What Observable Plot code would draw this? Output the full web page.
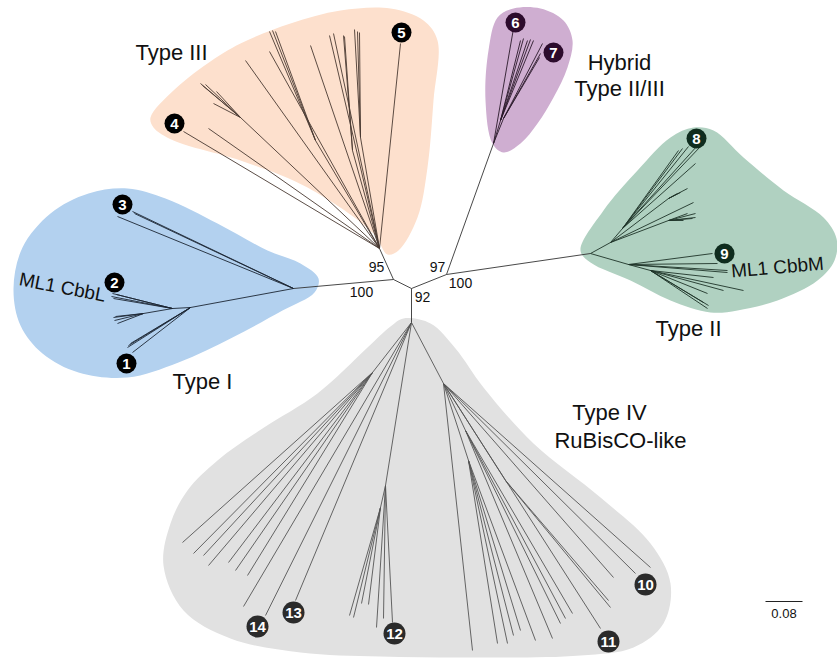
<!DOCTYPE html>
<html><head><meta charset="utf-8">
<script src="https://cdn.jsdelivr.net/npm/d3@7"></script>
<script src="https://cdn.jsdelivr.net/npm/@observablehq/plot@0.6"></script>
<style>
html,body{margin:0;padding:0;background:#fff;}
#chart svg{display:block;font-family:"Liberation Sans",Arial,sans-serif;}
</style>
</head><body><div id="chart"></div>
<script>
// ---- clade hull outlines (layout coordinates) ----
const hullTypeI = [[318,278],[300,263],[267,250],[217,223],[165,198],[127,188],[88,193],[50,213],[22,247],[13,288],[20,325],[42,353],[78,372],[127,377],[178,362],[232,337],[282,310],[314,292]];
const hullTypeIII = [[387,254],[373,233],[307,187],[240,160],[173,140],[153,127],[150,117],[173,90],[207,63],[240,43],[290,23],[340,10],[390,8],[423,20],[437,40],[433,100],[427,167],[417,217],[398,250]];
const hullHybrid = [[492,143],[485,100],[488,50],[497,17],[513,8],[540,8],[563,20],[572,40],[567,67],[553,97],[537,123],[520,143],[503,152]];
const hullTypeII = [[580,250],[603,210],[637,170],[670,137],[693,127],[713,130],[743,157],[783,190],[823,217],[836,238],[834,260],[817,280],[777,300],[737,310],[710,312],[670,300],[630,280],[590,262]];
const hullTypeIV = [[403,318],[430,323],[455,348],[483,387],[533,443],[600,497],[650,543],[670,583],[663,623],[633,647],[580,655],[480,657],[380,656],[300,652],[230,638],[183,610],[163,565],[170,523],[187,490],[217,460],[262,428],[317,393],[367,347],[390,326]];
const hullColors = ["#b3d1ef","#fde0cd","#cfaed1","#b0d1c1","#e1e1e1"];

// ---- tree branches [x1, y1, x2, y2] ----
const backbone = [[411,288,393,279],[411,288,446,274],[411,288,411,322],[393,279,293,288],[393,279,379,248],[446,274,493,143],[446,274,590,253]];
const branchesI = [[293,288,132,211],[293,288,134,213],[293,288,117,216],[293,288,190,307],[190,307,172,308],
  [172,308,112,293],[172,308,111,296],[172,308,113,298],[172,308,116,294],
  [172,308,143,313],[143,313,113,317],[143,313,114,320],[143,313,117,323],[143,313,115,316],
  [190,307,127,347],[190,307,128,345],[190,307,130,343],[190,307,132,352]];
const branchesIII = [[379,248,183,131],[379,248,208,128],[379,248,245,60],[379,248,269,51],[379,248,310,45],[379,248,400,43],
  [379,248,240,117],[240,117,200,83],[240,117,202,85],[240,117,205,84],[240,117,216,91],[240,117,213,103],
  [379,248,315,140],[315,140,269,31],[315,140,272,30],[315,140,275,31],
  [379,248,360,137],[360,137,354,29],[360,137,357,31],[360,137,359,32],
  [379,248,329,35],[379,248,333,33],[379,248,352,150],[352,150,343,35],[352,150,344,36]];
const branchesHybrid = [[493,143,513,28],[493,143,500,120],[500,120,520,40],[500,120,523,38],[500,120,527,40],[500,120,530,39],[500,120,533,40],
  [493,143,503,118],[503,118,542,43],[503,118,540,53],[503,118,539,57]];
const branchesII = [[590,253,610,242],[610,242,622,228],[622,228,700,146],[622,228,697,145],[622,228,688,146],[622,228,682,148],[622,228,678,150],[622,228,695,163],
  [610,242,668,198],[668,198,687,188],[668,198,680,192],[668,198,677,193],[610,242,693,202],
  [610,242,668,220],[668,220,695,213],[668,220,695,217],[668,220,692,218],[668,220,687,213],[668,220,683,220],
  [590,253,628,264],[628,264,712,253],[628,264,717,263],[628,264,727,270],[628,264,727,272],
  [628,264,650,270],[650,270,713,277],[650,270,743,290],[650,270,723,290],[650,270,707,293],[650,270,708,305],[650,270,707,308],[650,270,703,302]];
const branchesIV = [[411,322,372,372],[372,372,182,542],[372,372,193,553],[372,372,203,555],[372,372,208,565],[372,372,228,562],[372,372,235,570],[372,372,247,575],
  [411,322,243,606],[411,322,265,615],[411,322,295,600],
  [411,322,385,485],[385,485,380,507],[380,507,349,615],[380,507,353,617],[380,507,361,603],[380,507,368,604],
  [385,485,376,627],[385,485,383,618],[385,485,392,622],
  [411,322,443,383],[443,383,650,567],[443,383,635,573],[443,383,613,577],
  [443,383,505,480],[505,480,608,600],[505,480,610,607],[443,383,600,628],
  [443,383,465,430],[465,430,572,613],[465,430,565,618],[465,430,560,623],[465,430,552,638],
  [443,383,468,460],[468,460,535,640],[468,460,520,630],[468,460,513,635],[468,460,507,643],[468,460,497,643],
  [443,383,472,650]];
const branchColors = ["#333333","#1c2633","#4a3a32","#2a1a2a","#1e3328","#555555"];

// ---- numbered markers ----
const markerIds = ["1","2","3","4","5","6","7","8","9","10","11","12","13","14"];
const markerX = [126,114,122,174,401,515,553,696,724,645,608,394,293,257];
const markerY = [363,282,204,123,32,22,52,138,253,584,641,633,612,626];
const markerColors = ["#000000","#000000","#000000","#000000","#000000","#2c0b2c","#2c0b2c","#0f2c1e","#0f2c1e","#2b2b2b","#2b2b2b","#2b2b2b","#2b2b2b","#2b2b2b"];

// ---- labels ----
const cladeLabels = ["Type III","Hybrid","Type II/III","Type II","Type I","Type IV","RuBisCO-like"];
const cladeLabelX = [171,619,619,688,202,609,620];
const cladeLabelY = [52,62,88,328,381,412,440];
const geneLabels = ["ML1 CbbL","ML1 CbbM"];
const geneLabelX = [62,777];
const geneLabelY = [287,267];
const geneLabelAngle = [11,-5];
const supportValues = ["95","97","100","100","92"];
const supportX = [376,437,361,460,422];
const supportY = [267,267,292,283,297];
const scaleBar = [{x1:765,x2:802,y:601,label:"0.08"}];

const W = 837, H = 658;
const hulls = [hullTypeI,hullTypeIII,hullHybrid,hullTypeII,hullTypeIV];
const branchSets = [backbone,branchesI,branchesIII,branchesHybrid,branchesII,branchesIV];
const edges = branchSets.flatMap((s,i)=>s.map(e=>({x1:e[0],y1:e[1],x2:e[2],y2:e[3],c:branchColors[i]})));
const markers = markerIds.map((t,i)=>({t,x:markerX[i],y:markerY[i],c:markerColors[i],rr:t.length>1?11:10}));
const clades = cladeLabels.map((t,i)=>({t,x:cladeLabelX[i],y:cladeLabelY[i]}));
const genes = geneLabels.map((t,i)=>({t,x:geneLabelX[i],y:geneLabelY[i],a:geneLabelAngle[i]}));
const supports = supportValues.map((t,i)=>({t,x:supportX[i],y:supportY[i]}));

const chart = Plot.plot({
  width: W, height: H, margin: 0,
  x: {domain:[0,W], range:[0,W], axis:null},
  y: {domain:[0,H], range:[0,H], axis:null},
  r: {type:"identity"},
  color: {type:"identity"},
  style: {fontFamily:"Liberation Sans, Arial, sans-serif", background:"#fff"},
  marks: [
    ...hulls.map((h,i)=>Plot.line(h,{x:d=>d[0],y:d=>d[1],curve:"catmull-rom-closed",fill:hullColors[i],stroke:"none"})),
    Plot.link(edges,{x1:"x1",y1:"y1",x2:"x2",y2:"y2",stroke:"c",strokeWidth:0.9}),
    Plot.dot(markers,{x:"x",y:"y",r:"rr",fill:"c",stroke:"none"}),
    Plot.text(markers,{x:"x",y:"y",text:"t",fill:"white",fontWeight:"bold",fontSize:15,dy:1,letterSpacing:-0.5}),
    Plot.text(clades,{x:"x",y:"y",text:"t",fontSize:22,fill:"#111"}),
    ...genes.map(g=>Plot.text([g],{x:"x",y:"y",text:"t",fontSize:19,fill:"#111",rotate:g.a})),
    Plot.text(supports,{x:"x",y:"y",text:"t",fontSize:14,fill:"#111"}),
    Plot.link(scaleBar,{x1:"x1",x2:"x2",y1:"y",y2:"y",stroke:"#222",strokeWidth:1.2}),
    Plot.text(scaleBar,{x:d=>(d.x1+d.x2)/2,y:"y",text:"label",dy:12,fontSize:13,fill:"#111"})
  ]
});
chart.setAttribute("color","#111");
document.getElementById("chart").appendChild(chart);
</script>
</body></html>
